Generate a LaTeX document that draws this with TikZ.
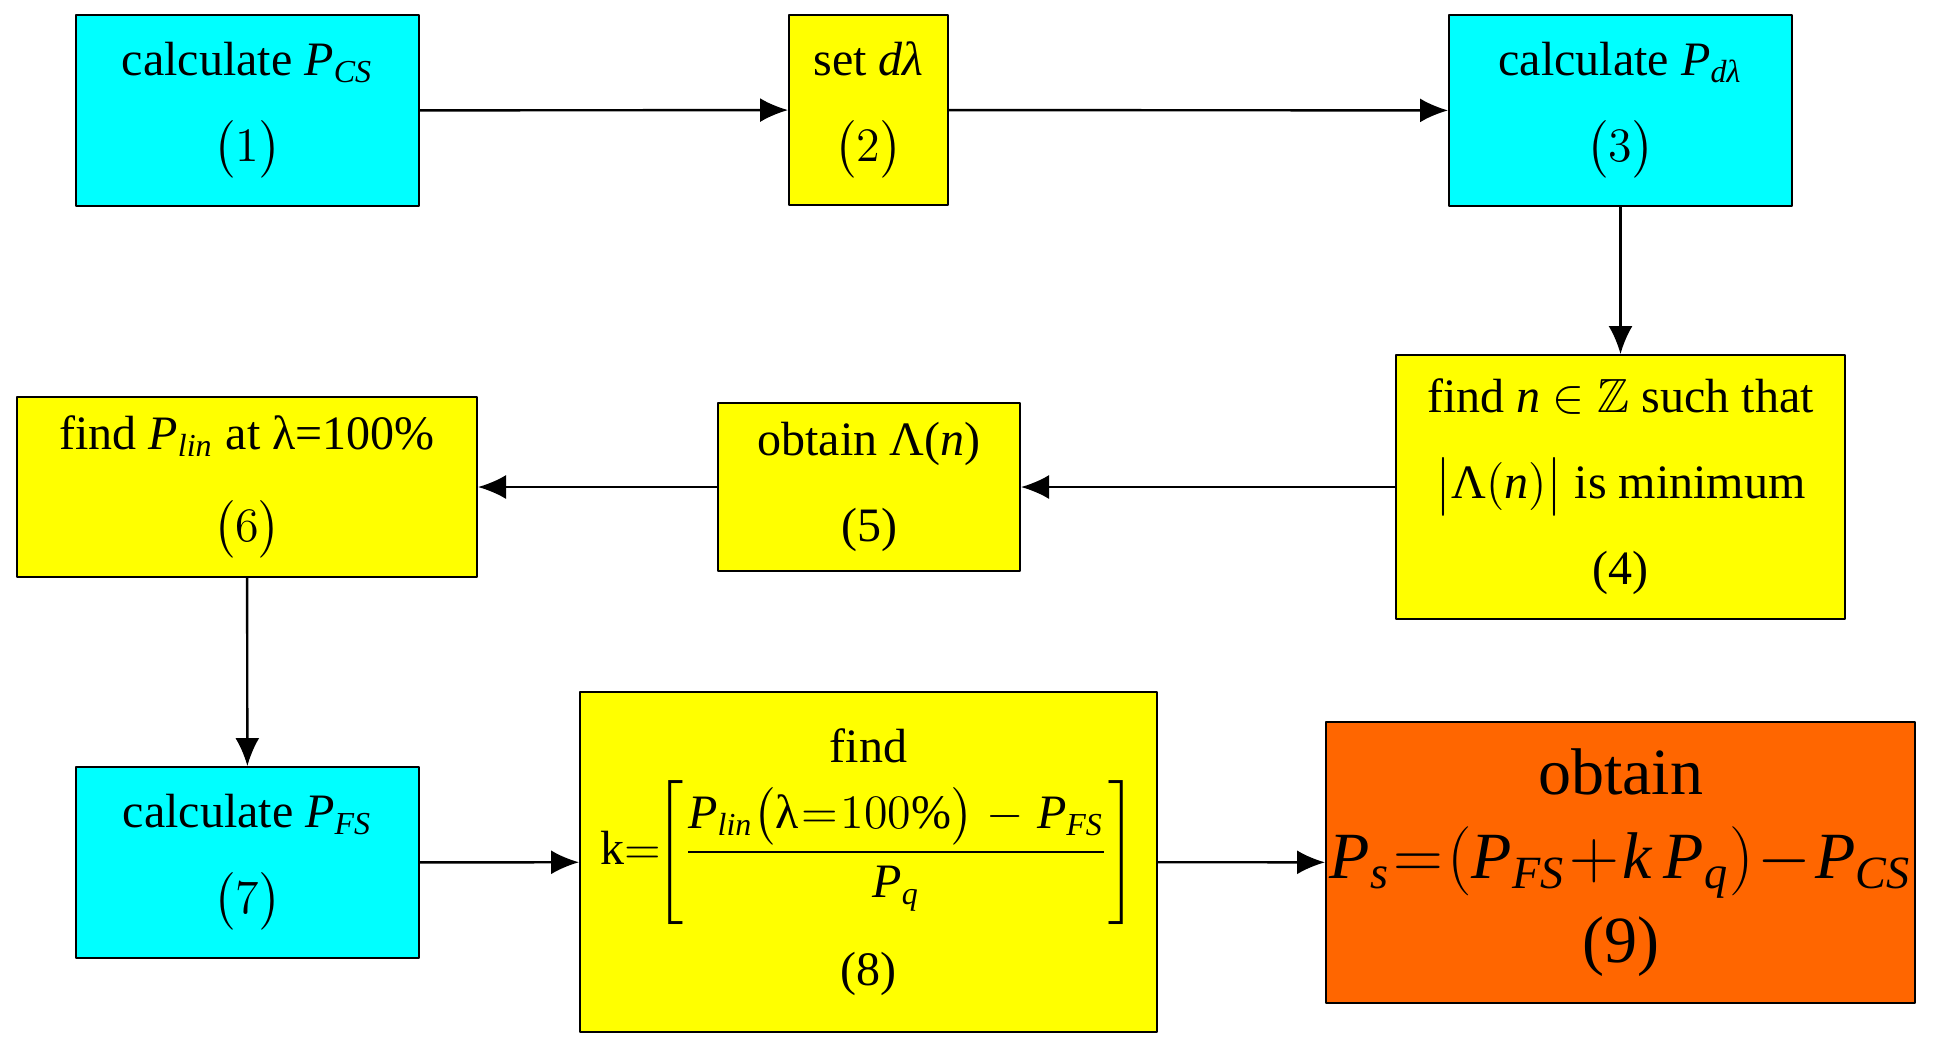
\documentclass[tikz,border=0pt]{standalone}
\usepackage{amsmath,amssymb}
\usepackage{fontspec}
\setmainfont{Liberation Serif}
\usetikzlibrary{arrows.meta}

\definecolor{boxcyan}{RGB}{0,255,255}
\definecolor{boxyellow}{RGB}{255,255,0}
\definecolor{boxorange}{RGB}{255,102,0}
\newcommand{\mi}[1]{\textit{#1}}
\newcommand{\tightmath}{\thickmuskip=1mu\medmuskip=1mu}

\begin{document}
\begin{tikzpicture}[x=0.25pt,y=-0.25pt,line cap=round,line join=round,
  stepbox/.style={draw=black,line width=0.5pt,inner sep=0pt,align=center,
    font=\fontsize{12}{21.5}\selectfont},
  sz/.style 2 args={minimum width=#1*0.25pt,minimum height=#2*0.25pt},
  calcbox/.style={stepbox,fill=boxcyan},
  findbox/.style={stepbox,fill=boxyellow},
  endbox/.style={stepbox,fill=boxorange,font=\fontsize{16.5}{21}\selectfont\tightmath},
  flow/.style={-{Latex[length=7pt,width=6pt]},line width=0.6pt}]
\useasboundingbox (0,0) rectangle (1934,1054);

% first row
\node[calcbox,sz={343}{191}] (calcCS) at (247.5,110.5)
  {calculate $\mi{P}_{\mi{CS}}$\\ {\large$\bigl(1\bigr)$}};
\node[findbox,sz={159}{190}] (setdl) at (868.5,110)
  {set \mi{dλ}\\ {\large$\bigl(2\bigr)$}};
\node[calcbox,sz={343}{191}] (calcdl) at (1620.5,110.5)
  {calculate $\mi{P}_{\mi{dλ}}$\\ {\large$\bigl(3\bigr)$}};

% second row
\node[findbox,sz={449}{264}] (findn) at (1620.5,487)
  {find \mi{n} $\in\mathbb{Z}$ such that\\
   $\bigl|\text{Λ}(\mi{n})\bigr|$ is minimum\\ (4)};
\node[findbox,sz={302}{168}] (getL) at (869,487)
  {obtain Λ(\mi{n})\\ (5)};
\node[findbox,sz={460}{180},font=\fontsize{12}{23}\selectfont] (findlin) at (247,487)
  {find $\mi{P}_{\mi{lin}}$ at λ=100\%\\ {\large$\bigl(6\bigr)$}};

% third row
\node[calcbox,sz={343}{191}] (calcFS) at (247.5,862.5)
  {calculate $\mi{P}_{\mi{FS}}$\\ {\large$\bigl(7\bigr)$}};
\node[findbox,sz={577}{340},font=\fontsize{12}{21.5}\selectfont\tightmath] (findk) at (868.5,862)
  {find\\[4pt]
   k$=\!\left[\dfrac{\mi{P}_{\mi{lin}}\bigl(\text{λ}=100\%\bigr)\;\,-\;\,\mi{P}_{\mi{FS}}}
     {\mi{P}_{\mi{q}}}\right]$\\[6pt] (8)};
\node[endbox,sz={589}{281}] (getPs) at (1620.5,862.5)
  {obtain\\
   $\mi{P}_{\mi{s}}=(\mi{P}_{\mi{FS}}+\mi{k}\,\mi{P}_{\mi{q}})-\mi{P}_{\mi{CS}}$\\ (9)};

% connectors
\draw[flow] (calcCS) -- (setdl);
\draw[flow] (setdl) -- (calcdl);
\draw[flow] (calcdl) -- (findn);
\draw[flow] (findn) -- (getL);
\draw[flow] (getL) -- (findlin);
\draw[flow] (findlin) -- (calcFS);
\draw[flow] (calcFS) -- (findk);
\draw[flow] (findk) -- (getPs);

\end{tikzpicture}
\end{document}
